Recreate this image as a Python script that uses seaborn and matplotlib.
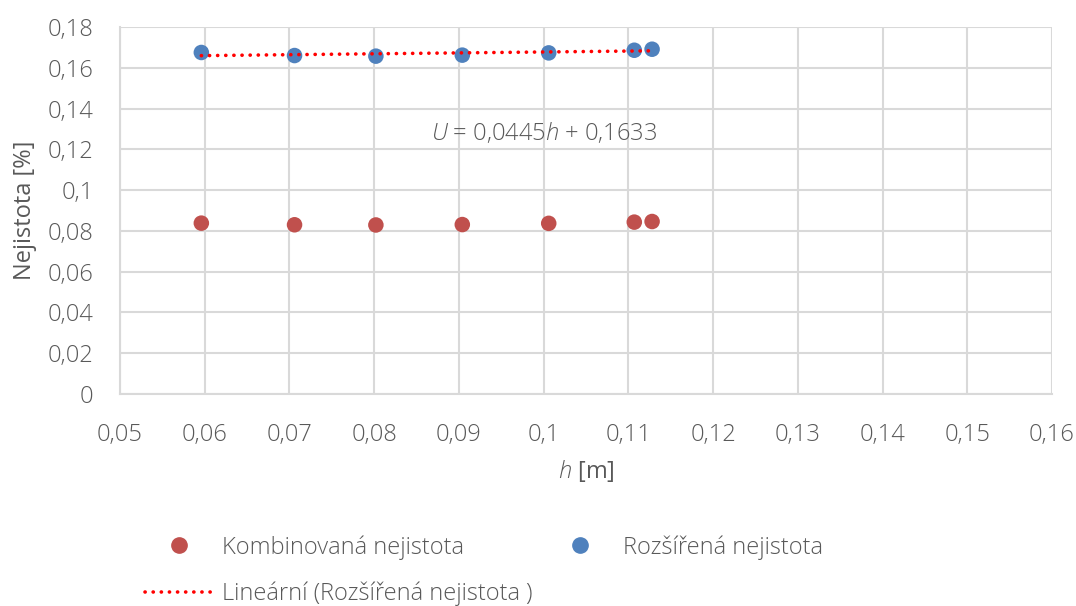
import numpy as np
import pandas as pd
import matplotlib
matplotlib.use("Agg")
import matplotlib.pyplot as plt
import seaborn as sns
from matplotlib.lines import Line2D

# data
h = [0.0596, 0.0706, 0.0802, 0.0904, 0.1006, 0.1107, 0.1128]
kombinovana = [0.0838, 0.0830, 0.0829, 0.0831, 0.0837, 0.0843, 0.0846]
rozsirena = [0.1675, 0.1660, 0.1657, 0.1662, 0.1673, 0.1686, 0.1691]
trend_slope = 0.0445
trend_intercept = 0.1633

x_ticks = [0.05, 0.06, 0.07, 0.08, 0.09, 0.10, 0.11, 0.12, 0.13, 0.14, 0.15, 0.16]
x_labels = ["0,05", "0,06", "0,07", "0,08", "0,09", "0,1", "0,11", "0,12", "0,13", "0,14", "0,15", "0,16"]
y_ticks = [0, 0.02, 0.04, 0.06, 0.08, 0.10, 0.12, 0.14, 0.16, 0.18]
y_labels = ["0", "0,02", "0,04", "0,06", "0,08", "0,1", "0,12", "0,14", "0,16", "0,18"]

sns.set_theme(style="whitegrid")
plt.rcParams['font.family'] = ['Open Sans', 'DejaVu Sans']
plt.rcParams['font.weight'] = 'light'
plt.rcParams['mathtext.fontset'] = 'custom'
plt.rcParams['mathtext.it'] = 'Open Sans:italic'
plt.rcParams['mathtext.rm'] = 'Open Sans'

grid_c = "#d9d9d9"
text_c = "#595959"
red = "#C0504D"
blue = "#4F81BD"
fs = 17
dots = (0, (0.05, 2.2))

df = pd.DataFrame({"h": h, "komb": kombinovana, "roz": rozsirena})

fig = plt.figure(figsize=(10.76, 6.06), dpi=100)
ax = fig.add_axes([120 / 1076, 1 - 394 / 606, (1052 - 120) / 1076, (394 - 27) / 606])

sns.scatterplot(data=df, x="h", y="komb", ax=ax, color=red, s=125, edgecolor="none", zorder=3)
sns.scatterplot(data=df, x="h", y="roz", ax=ax, color=blue, s=125, edgecolor="none", zorder=3)

# lineární trend (jen v rozsahu dat)
hx = np.array([min(h), max(h)])
ax.plot(hx, trend_slope * hx + trend_intercept, color="#FF0000", lw=2.6,
        linestyle=dots, dash_capstyle="round", zorder=4)

ax.set_xlim(0.05, 0.16)
ax.set_ylim(0, 0.18)
ax.set_xticks(x_ticks)
ax.set_xticklabels(x_labels)
ax.set_yticks(y_ticks)
ax.set_yticklabels(y_labels)
ax.tick_params(axis="both", labelsize=fs, colors=text_c, length=0)
ax.tick_params(axis="x", pad=21)
ax.tick_params(axis="y", pad=19)
ax.grid(True, color=grid_c, lw=1.5)
for sp in ["top", "right"]:
    ax.spines[sp].set_visible(False)
for sp in ["left", "bottom"]:
    ax.spines[sp].set_color(grid_c)
    ax.spines[sp].set_linewidth(1.5)

ax.set_xlabel(r"$h$ [m]", fontsize=fs, color=text_c, va="top")
ax.set_ylabel("Nejistota [%]", fontsize=fs, color=text_c)
ax.xaxis.set_label_coords(0.5, (394 - 458) / 367)
ax.yaxis.set_label_coords((37 - 120) / 932, 0.5)

ax.text(0.1, 0.128, r"$U$ = 0,0445$h$ + 0,1633", fontsize=fs, color=text_c,
        ha="center", va="center")

handles = [
    Line2D([], [], marker="o", ls="none", color=red, markersize=11),
    Line2D([], [], color="#FF0000", lw=2.6, linestyle=dots, dash_capstyle="round"),
    Line2D([], [], marker="o", ls="none", color=blue, markersize=11),
]
labels = ["Kombinovaná nejistota", "Lineární (Rozšířená nejistota )", "Rozšířená nejistota"]
leg = fig.legend(handles, labels, loc="upper left", bbox_to_anchor=(145 / 1076, 1 - 535 / 606),
                 ncol=2, frameon=False, fontsize=fs, handlelength=2.9, handletextpad=0.38,
                 columnspacing=0.55, labelspacing=0.95, borderpad=0, borderaxespad=0)
for t in leg.get_texts():
    t.set_color(text_c)

fig.savefig("out.png", dpi=100)
